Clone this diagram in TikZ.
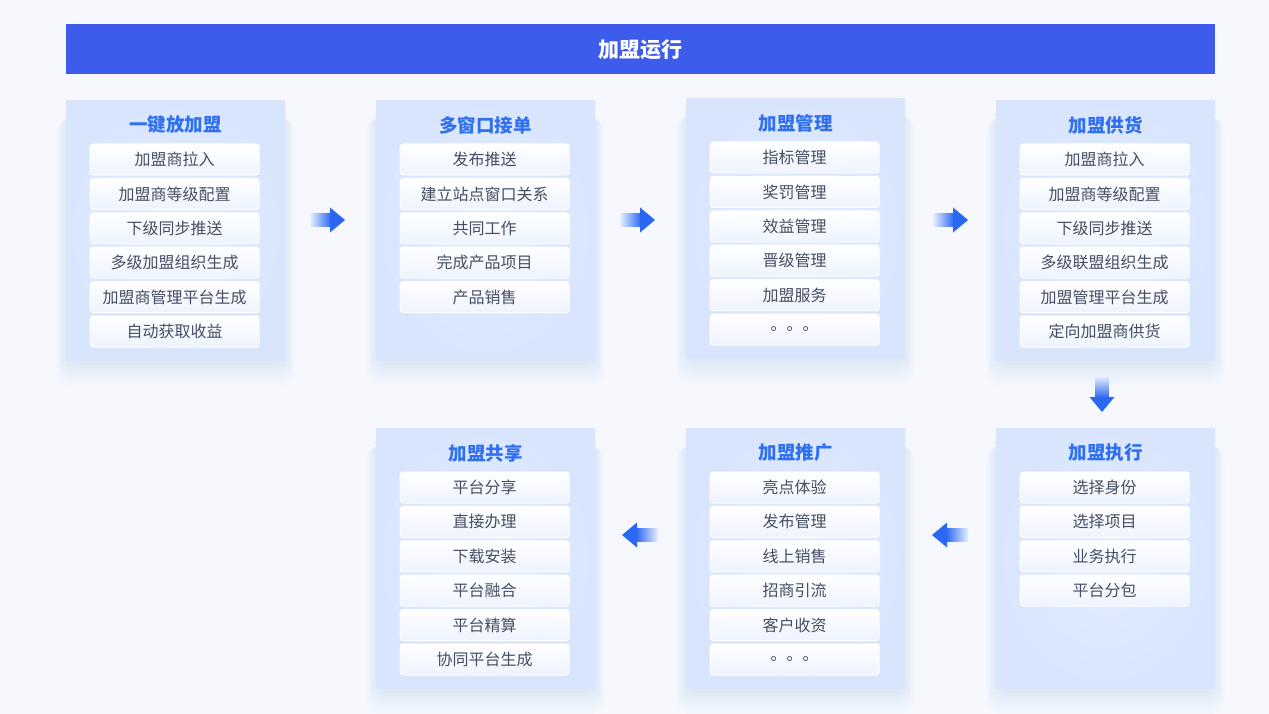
\documentclass[tikz,border=0pt]{standalone}
\usepackage{fontspec}
\setmainfont{Noto Sans CJK SC}
\usetikzlibrary{calc}
\definecolor{bgc}{HTML}{F6F8FE}
\definecolor{hdr}{HTML}{3D5CEB}
\definecolor{ttl}{HTML}{2F6FF0}
\definecolor{pnl}{HTML}{D8E5FD}
\definecolor{pnlin}{HTML}{E3EDFE}
\definecolor{itxt}{HTML}{464E63}
\definecolor{ibot}{HTML}{EEF3FE}
\definecolor{arw}{HTML}{2A68F4}
\definecolor{arwl}{HTML}{E9F0FE}
\definecolor{shd}{HTML}{3A5AC8}
\tikzset{
  panel/.style={rectangle, anchor=north west, minimum width=219pt, minimum height=260pt,
    inner sep=0pt, draw=none, inner color=pnlin, outer color=pnl},
  ptitle/.style={text=ttl, font=\fontsize{18.5}{22}\selectfont\bfseries, inner sep=0pt},
  item/.style={rectangle, rounded corners=3pt, minimum width=169pt, minimum height=31pt,
    inner sep=0pt, draw=white, line width=1pt, top color=white, bottom color=ibot,
    text=itxt, font=\fontsize{16}{19}\selectfont},
  softshadow/.style={fill=shd, opacity=0.011, rounded corners=14pt},
}
\newcommand\pshadow[2]{% top-left x, y of panel
  \foreach \k in {1,...,8}
    \fill[softshadow] (#1-\k*1.2,#2+10+\k*1) rectangle (#1+219+\k*1.2,#2+262+\k*3);
}
\newcommand\panelitems[3]{% panel name, title, items
  \node[ptitle] (#1t) at ($(#1.north)+(0,25)$) {#2};
  \foreach \t [count=\i] in {#3}
    \node[item] (#1i\i) at ($(#1.north)+(-1,59.5+34.4*\i-34.4)$) {\t};
}
\newcommand\rarrow[2]{% tip x, tip y
  \shade[left color=arwl, right color=arw] (#1-35,#2-6.5) rectangle (#1-14,#2+6.5);
  \fill[arw] (#1-15,#2-12.5) -- (#1,#2) -- (#1-15,#2+12.5) -- cycle;
}
\newcommand\larrow[2]{% tip x, tip y
  \shade[right color=arwl, left color=arw] (#1+36,#2-6.5) rectangle (#1+14,#2+6.5);
  \fill[arw] (#1+15,#2-12.5) -- (#1,#2) -- (#1+15,#2+12.5) -- cycle;
}
\newcommand\darrow[2]{% tip x, tip y
  \shade[top color=arwl, bottom color=arw] (#1-6.5,#2-36) rectangle (#1+6.5,#2-14);
  \fill[arw] (#1-12.5,#2-15) -- (#1,#2) -- (#1+12.5,#2-15) -- cycle;
}
\begin{document}
\begin{tikzpicture}[x=1pt,y=-1pt]
\fill[bgc] (0,0) rectangle (1269,714);
\useasboundingbox (0,0) rectangle (1269,714);
% header
\node[rectangle, fill=hdr, minimum width=1149pt, minimum height=50pt, inner sep=0pt,
  text=white, font=\fontsize{21}{24}\selectfont\bfseries] (head) at (640.5,49.5) {加盟运行};
% soft shadows
\pshadow{66}{100}
\pshadow{376}{100}
\pshadow{686}{98}
\pshadow{996}{100}
\pshadow{376}{428}
\pshadow{686}{428}
\pshadow{996}{428}
% panels
\node[panel] (p1) at (66,100) {};
\node[panel] (p2) at (376,100) {};
\node[panel] (p3) at (686,98) {};
\node[panel] (p4) at (996,100) {};
\node[panel] (p5) at (376,428) {};
\node[panel] (p6) at (686,428) {};
\node[panel] (p7) at (996,428) {};
\panelitems{p1}{一键放加盟}{加盟商拉入,加盟商等级配置,下级同步推送,多级加盟组织生成,加盟商管理平台生成,自动获取收益}
\panelitems{p2}{多窗口接单}{发布推送,建立站点窗口关系,共同工作,完成产品项目,产品销售}
\panelitems{p3}{加盟管理}{指标管理,奖罚管理,效益管理,晋级管理,加盟服务,。。。}
\panelitems{p4}{加盟供货}{加盟商拉入,加盟商等级配置,下级同步推送,多级联盟组织生成,加盟管理平台生成,定向加盟商供货}
\panelitems{p5}{加盟共享}{平台分享,直接办理,下载安装,平台融合,平台精算,协同平台生成}
\panelitems{p6}{加盟推广}{亮点体验,发布管理,线上销售,招商引流,客户收资,。。。}
\panelitems{p7}{加盟执行}{选择身份,选择项目,业务执行,平台分包}
% arrows
\rarrow{345}{220}
\rarrow{655}{220}
\rarrow{968}{220}
\darrow{1102}{412}
\larrow{932}{535}
\larrow{622}{535}
\end{tikzpicture}
\end{document}
